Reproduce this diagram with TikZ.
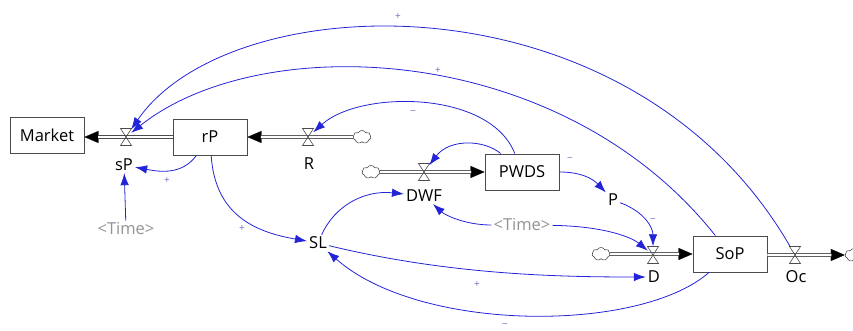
\documentclass[tikz,border=0pt]{standalone}
\usepackage{fontspec}
\setmainfont{Open Sans}
\usetikzlibrary{arrows.meta,shapes.symbols}
\definecolor{lnk}{RGB}{35,35,215}
\definecolor{pol}{RGB}{110,110,200}
\definecolor{stk}{RGB}{75,75,75}
\begin{document}
\begin{tikzpicture}[x=1pt,y=-1pt,
  every node/.style={font=\fontsize{16.5}{19}\selectfont},
  stock/.style={draw=stk, line width=0.9pt, minimum width=74pt, minimum height=36pt, inner sep=0pt},
  var/.style={inner sep=2pt},
  ghost/.style={inner sep=2pt, text=gray!85},
  vnode/.style={minimum width=10pt, minimum height=17pt, inner sep=0pt},
  cloudn/.style={cloud, cloud puffs=7, cloud puff arc=120, aspect=1.4, draw=stk, line width=0.6pt, minimum width=18pt, minimum height=13pt, inner sep=0pt},
  pipe/.style={draw=stk, line width=0.7pt, double=white, double distance=2.2pt},
  phead/.style={line width=0.3pt, black, -{Triangle[length=14pt,width=12pt]}},
  link/.style={draw=lnk, line width=0.8pt, -{Latex[length=12pt,width=8.5pt]}},
  pm/.style={font=\fontsize{10}{11}\selectfont, text=pol, inner sep=0pt},
  valve/.pic={\draw[draw=stk, line width=0.6pt] (-5.5,-8.5) -- (5.5,-8.5) -- (-5.5,8.5) -- (5.5,8.5) -- cycle;}
]
\useasboundingbox (0,0) rectangle (853,331);

% stocks
\node[stock] (Market) at (47,135) {Market};
\node[stock] (rP) at (210,137) {rP};
\node[stock] (PWDS) at (522,172) {PWDS};
\node[stock] (SoP) at (730,254) {SoP};

% valves
\node[vnode] (sPv) at (126,137) {};
\node[vnode] (Rv) at (308,137) {};
\node[vnode] (DWFv) at (424,172) {};
\node[vnode] (Dv) at (653,255) {};
\node[vnode] (Ocv) at (795,255) {};

% clouds
\node[cloudn] (cR) at (362,137) {};
\node[cloudn] (cDWF) at (371,172) {};
\node[cloudn] (cD) at (601,254) {};
\node[cloudn] (cOc) at (854,255) {};

% labels / variables
\node[var] (sP) at (124,165) {sP};
\node[var] (R) at (309,164) {R};
\node[var] (DWF) at (424,196) {DWF};
\node[var] (D) at (654,277) {D};
\node[var] (Oc) at (796,277) {Oc};
\node[var] (P) at (613,200) {P};
\node[var] (SL) at (318,243) {SL};
\node[ghost] (T1) at (126,229) {\textless Time\textgreater};
\node[ghost] (T2) at (522,225) {\textless Time\textgreater};

% pipes
\draw[phead] (rP.west) -- (rP.west -| Market.east);
\draw[pipe, shorten >=13.5pt] (rP.west) -- (rP.west -| Market.east);
\draw[phead] (cR) -- (rP.east);
\draw[pipe, shorten >=13.5pt] (cR) -- (rP.east);
\draw[phead] (cDWF) -- (PWDS.west);
\draw[pipe, shorten >=13.5pt] (cDWF) -- (PWDS.west);
\draw[phead] (cD) -- (cD -| SoP.west);
\draw[pipe, shorten >=13.5pt] (cD) -- (cD -| SoP.west);
\draw[phead] (SoP.east |- cOc) -- (cOc);
\draw[pipe, shorten >=13.5pt] (SoP.east |- cOc) -- (cOc);

\pic at (sPv) {valve};
\pic at (Rv) {valve};
\pic at (DWFv) {valve};
\pic at (Dv) {valve};
\pic at (Ocv) {valve};

% links
\draw[link] (Ocv) .. controls (630,-30) and (230,-15) .. (sPv);
\draw[link] (SoP) .. controls (560,40) and (260,30) .. (sPv);
\draw[link] (PWDS) .. controls (490,90) and (360,90) .. (Rv);
\draw[link] (PWDS) .. controls (485,140) and (450,138) .. (DWFv);
\draw[link] (rP) .. controls (182,175) and (160,172) .. (sP);
\draw[link] (T1) -- (sP);
\draw[link] (rP) .. controls (215,215) and (255,232) .. (SL);
\draw[link] (SL) .. controls (335,205) and (365,190) .. (DWF);
\draw[link] (T2) .. controls (465,225) and (445,215) .. (DWF);
\draw[link] (PWDS) .. controls (580,172) and (592,178) .. (P);
\draw[link] (P) .. controls (645,212) and (653,228) .. (Dv);
\draw[link] (T2) .. controls (600,226) and (630,236) .. (Dv);
\draw[link] (SL) .. controls (450,275) and (560,277) .. (D);
\draw[link] (SoP) .. controls (640,333) and (420,333) .. (SL);

% polarities
\node[pm] (p1) at (398,17) {+};
\node[pm] (p2) at (438,71) {+};
\node[pm] (p3) at (413,113) {−};
\node[pm] (p4) at (167,181) {+};
\node[pm] (p5) at (242,229) {+};
\node[pm] (p6) at (570,160) {−};
\node[pm] (p7) at (653,221) {−};
\node[pm] (p8) at (477,285) {+};
\node[pm] (p9) at (505,326) {−};
\end{tikzpicture}
\end{document}
